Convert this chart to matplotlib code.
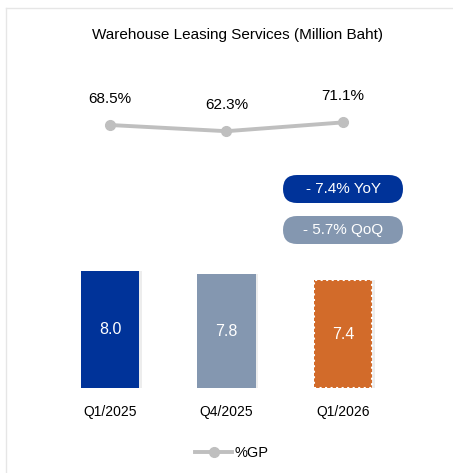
import matplotlib.pyplot as plt
from matplotlib.patches import FancyBboxPatch
from matplotlib.lines import Line2D

plt.rcParams['font.family'] = ['Liberation Sans', 'DejaVu Sans']

quarters = ['Q1/2025', 'Q4/2025', 'Q1/2026']
revenue = [8.0, 7.8, 7.4]
gp_pct = [68.5, 62.3, 71.1]
bar_colors = ['#003399', '#8497B0', '#D26B2A']
pills = [('- 7.4% YoY', '#003399'), ('- 5.7% QoQ', '#8497B0')]

W, H = 453, 473
fig = plt.figure(figsize=(W / 100, H / 100), dpi=100)

# axes placed so bar bottoms sit at y=388px, top at 60px
ax = fig.add_axes([22.6 / W, (H - 388) / H, 407.6 / W, 328 / H])
x = list(range(len(quarters)))

# soft shadow on the right of each bar
ax.bar([i + 0.025 for i in x], revenue, width=0.5, color='#d8d8d8', alpha=0.45, zorder=1)
bars = ax.bar(x, revenue, width=0.5, color=bar_colors, zorder=2)
bars[2].set_edgecolor('white')
bars[2].set_linestyle(':')
bars[2].set_linewidth(1.5)

for i, v in enumerate(revenue):
    ax.text(i, v / 2, f'{v:.1f}', ha='center', va='center', color='white',
            fontsize=11.5, zorder=3)

ax.set_xlim(-0.75, 2.75)
ax.set_ylim(0, 22.5)
ax.set_xticks(x)
ax.set_xticklabels(quarters, fontsize=10)
ax.tick_params(length=0, pad=12, left=False, labelleft=False)
for s in ax.spines.values():
    s.set_visible(False)

ax2 = ax.twinx()
ax2.plot(x, gp_pct, color='#BFBFBF', linewidth=2.8, marker='o', markersize=7,
         label='%GP', zorder=4)
for i, v in enumerate(gp_pct):
    ax2.text(i, v + 19, f'{v}%', ha='center', va='bottom', fontsize=11)
ax2.set_ylim(-194.5, 133.5)
ax2.set_yticks([])
for s in ax2.spines.values():
    s.set_visible(False)

# change pills
pill_tops = [175, 216]
for (label, col), top in zip(pills, pill_tops):
    box = FancyBboxPatch((2.83, (H - top - 28) / 100), 1.20, 0.28,
                         boxstyle='round,pad=0,rounding_size=0.14',
                         transform=fig.dpi_scale_trans, facecolor=col,
                         edgecolor='none')
    fig.patches.append(box)
    fig.text(3.43 / (W / 100), (H - top - 14) / H, label, ha='center',
             va='center', color='white', fontsize=11)

fig.text(237 / W, 1 - 35 / H, 'Warehouse Leasing Services (Million Baht)',
         ha='center', va='center', fontsize=11)

handle = Line2D([], [], color='#BFBFBF', linewidth=2.8, marker='o', markersize=7)
fig.legend([handle], ['%GP'], loc='center', bbox_to_anchor=(232 / W, 1 - 453 / H),
           frameon=False, fontsize=10.5, handlelength=2.5, handletextpad=0.2)

# faint panel border
fig.add_artist(Line2D([6 / W, 1], [1 - 8 / H, 1 - 8 / H], color='#e6e6e6', linewidth=1))
fig.add_artist(Line2D([6 / W, 6 / W], [0, 1 - 8 / H], color='#e6e6e6', linewidth=1))

fig.savefig('out.png', dpi=100)
